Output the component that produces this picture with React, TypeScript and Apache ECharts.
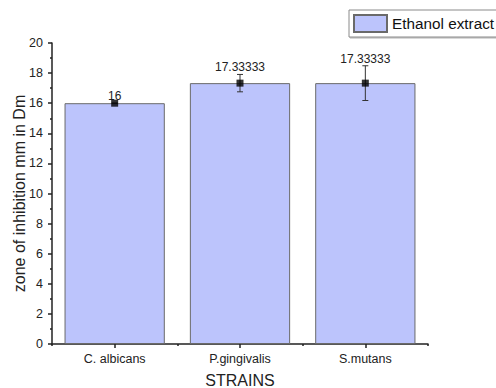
import React, { useEffect, useRef } from "react";
import * as echarts from "echarts";

const categories = ["C. albicans", "P.gingivalis", "S.mutans"];
const means = [16, 17.33333, 17.33333];
const errors = [0, 0.57735, 1.1547];
const seriesName = "Ethanol extract";
const yTicks = { min: 0, max: 20, interval: 2 };

const FONT = "Arial, 'Liberation Sans', sans-serif";

export default function App() {
  const ref = useRef<HTMLDivElement>(null);
  useEffect(() => {
    if (!ref.current) return;
    const chart = echarts.init(ref.current, undefined, { renderer: "svg" });
    const errData = categories.map((c, i) => [i, means[i], errors[i]]);
    chart.setOption({
      animation: false,
      backgroundColor: "#fff",
      textStyle: { fontFamily: FONT },
      grid: { left: 52, right: 68, top: 43, bottom: 44, containLabel: false, outerBoundsMode: "none" },
      legend: {
        data: [seriesName],
        left: 349,
        top: 10,
        orient: "horizontal",
        padding: [4, 12, 4, 4],
        itemWidth: 33,
        itemHeight: 17,
        borderColor: "#8a8a8a",
        borderWidth: 1,
        shadowColor: "rgba(0,0,0,0.3)",
        shadowOffsetX: 1,
        shadowOffsetY: 1,
        shadowBlur: 1,
        backgroundColor: "#fff",
        icon: "rect",
        textStyle: { fontFamily: FONT, fontSize: 15.3, color: "#111" },
      },
      xAxis: [
        {
          type: "category",
          data: categories,
          position: "bottom",
          name: "STRAINS",
          nameLocation: "middle",
          nameGap: 28,
          nameMoveOverlap: false,
          nameTextStyle: { fontFamily: FONT, fontSize: 16, color: "#222" },
          axisLine: { lineStyle: { color: "#222", width: 1.5 } },
          axisTick: { show: true, alignWithLabel: false, length: 2, lineStyle: { color: "#222", width: 1.5 } },
          axisLabel: { fontFamily: FONT, fontSize: 12.5, color: "#222", margin: 8 },
          splitLine: { show: false },
        },
        {
          type: "category",
          data: categories,
          position: "bottom",
          axisLine: { show: false },
          axisTick: { show: true, alignWithLabel: true, length: 4, lineStyle: { color: "#222", width: 1.5 } },
          axisLabel: { show: false },
          splitLine: { show: false },
        },
      ],
      yAxis: {
        type: "value",
        min: yTicks.min,
        max: yTicks.max,
        interval: yTicks.interval,
        name: "zone of inhibition mm in Dm",
        nameLocation: "middle",
        nameGap: 25,
        nameMoveOverlap: false,
        nameTextStyle: { fontFamily: FONT, fontSize: 16, color: "#222" },
        axisLine: { show: true, lineStyle: { color: "#222", width: 1.5 } },
        axisTick: { show: true, length: 4, lineStyle: { color: "#222", width: 1.5 } },
        minorTick: { show: true, splitNumber: 2, length: 2, lineStyle: { color: "#222", width: 1.5 } },
        axisLabel: { fontFamily: FONT, fontSize: 12.5, color: "#222", margin: 9 },
        splitLine: { show: false },
      },
      series: [
        {
          name: seriesName,
          type: "bar",
          data: means,
          barWidth: "80%",
          itemStyle: { color: "#bcc4fc", borderColor: "#6a6a6a", borderWidth: 1 },
        },
        {
          type: "custom",
          name: "err",
          data: errData,
          z: 5,
          renderItem: (params: any, api: any) => {
            const x = api.value(0);
            const m = api.value(1);
            const e = api.value(2);
            const top = api.coord([x, m + e]);
            const bot = api.coord([x, m - e]);
            const cw = 3;
            const ls = { stroke: "#333", lineWidth: 1 };
            return {
              type: "group",
              children: [
                { type: "line", shape: { x1: top[0], y1: top[1], x2: bot[0], y2: bot[1] }, style: ls },
                { type: "line", shape: { x1: top[0] - cw, y1: top[1], x2: top[0] + cw, y2: top[1] }, style: ls },
                { type: "line", shape: { x1: bot[0] - cw, y1: bot[1], x2: bot[0] + cw, y2: bot[1] }, style: ls },
                {
                  type: "text",
                  x: top[0],
                  y: top[1] - 1,
                  z2: 10,
                  style: {
                    text: String(m),
                    fontFamily: FONT,
                    fontSize: 12,
                    fill: "#222",
                    align: "center",
                    verticalAlign: "bottom",
                  },
                },
              ],
            };
          },
        },
        {
          type: "scatter",
          name: "pts",
          data: means,
          symbol: "rect",
          symbolSize: 7,
          z: 6,
          itemStyle: { color: "#000" },
        },
      ],
    });
    return () => chart.dispose();
  }, []);
  return (
    <div
      ref={ref}
      style={{ position: "absolute", left: 0, top: 0, width: 496, height: 388 }}
    />
  );
}
